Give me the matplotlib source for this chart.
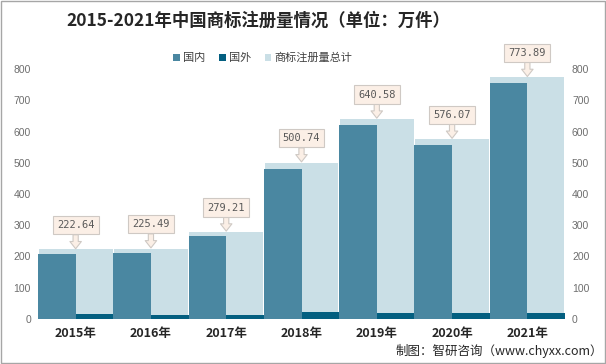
import matplotlib.pyplot as plt
import numpy as np

plt.rcParams['font.family'] = ['Noto Sans CJK SC', 'DejaVu Sans']

years = ['2015年', '2016年', '2017年', '2018年', '2019年', '2020年', '2021年']
domestic = [206.8, 212.3, 265.5, 479.0, 621.7, 557.6, 754.2]
foreign = [15.8, 13.2, 13.7, 21.7, 18.9, 18.5, 19.7]
total = [222.64, 225.49, 279.21, 500.74, 640.58, 576.07, 773.89]

c_dom = '#4a87a1'
c_for = '#035f80'
c_tot = '#cadfe6'

fig = plt.figure(figsize=(6.06, 3.64), dpi=100)
ax = fig.add_axes([38/606, 45/364, 527/606, 250/364])
ax2 = ax.twinx()

x = np.arange(len(years))

# total on secondary axis, drawn behind
ax2.bar(x, total, width=0.98, color=c_tot, label='商标注册量总计')
ax.bar(x - 0.25, domestic, width=0.5, color=c_dom, label='国内')
ax.bar(x + 0.25, foreign, width=0.5, color=c_for, label='国外')

ax.set_zorder(ax2.get_zorder() + 1)
ax.set_frame_on(False)

for a in (ax, ax2):
    a.set_ylim(0, 800)
    a.set_xlim(-0.5, len(years) - 0.5)
    for s in a.spines.values():
        s.set_visible(False)
    a.tick_params(axis='y', length=0, labelsize=7.5, labelcolor='#6e6e6e', pad=5)
    for lb in a.get_yticklabels():
        lb.set_family('Liberation Sans')
ax.set_yticks(range(0, 801, 100))
ax2.set_yticks(range(0, 801, 100))
for a in (ax, ax2):
    for lb in a.get_yticklabels():
        lb.set_family('Liberation Sans')

ax.set_xticks(x)
ax.set_xticklabels(years, fontsize=9, fontweight='bold', color='#262626')
ax.tick_params(axis='x', length=0, pad=6)

for i, t in enumerate(total):
    ax.annotate(f'{t:.2f}', xy=(x[i], t + 2), xytext=(0, 17), textcoords='offset points',
                ha='center', va='center', fontsize=7.5, color='#595959', family='DejaVu Sans Mono',
                bbox=dict(boxstyle='square,pad=0.4', fc='#fbefe6', ec='#cfc9c4', lw=0.8),
                arrowprops=dict(arrowstyle='simple,head_length=0.7,head_width=1.1,tail_width=0.5',
                                fc='#fbefe6', ec='#cfc9c4', lw=0.8, shrinkA=0, shrinkB=0))

h1, l1 = ax.get_legend_handles_labels()
h2, l2 = ax2.get_legend_handles_labels()
fig.legend(h1 + h2, l1 + l2, loc='center', bbox_to_anchor=(263/606, 1 - 58/364),
           ncol=3, frameon=False, fontsize=8, handlelength=0.6, handleheight=0.6,
           handletextpad=0.3, columnspacing=1.2, labelcolor='#404040')

fig.text(258/606, 1 - 21/364, '2015-2021年中国商标注册量情况（单位：万件）', ha='center', va='center',
         fontsize=12.5, fontweight='bold', color='#262626')
fig.text(0.995, 1 - 351/364, '制图：智研咨询（www.chyxx.com）', ha='right', va='center',
         fontsize=9, color='#262626')

fig.patches.append(plt.Rectangle((0.001, 0.002), 0.997, 0.996, transform=fig.transFigure,
                                 fill=False, ec='#a6a6a6', lw=1))

fig.savefig('out.png', dpi=100)
